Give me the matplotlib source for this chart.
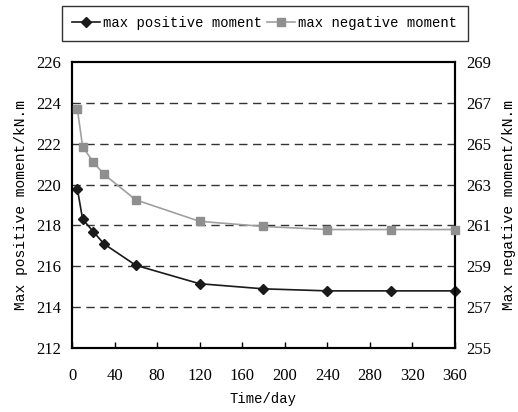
import matplotlib
matplotlib.use("Agg")
import matplotlib.pyplot as plt
from matplotlib.lines import Line2D

# data
days = [5, 10, 20, 30, 60, 120, 180, 240, 300, 360]
max_pos = [219.8, 218.3, 217.7, 217.1, 216.05, 215.15, 214.9, 214.8, 214.8, 214.8]
max_neg = [266.7, 264.85, 264.1, 263.5, 262.25, 261.2, 260.95, 260.8, 260.8, 260.8]

xticks = list(range(0, 361, 40))
left_ticks = list(range(212, 227, 2))
right_ticks = list(range(255, 270, 2))

mono = "Liberation Mono"
serif = "Liberation Serif"

fig = plt.figure(figsize=(5.18, 4.12), dpi=100)
ax1 = fig.add_axes([0.139, 0.155, 0.739, 0.695])
ax2 = ax1.twinx()

pos_c = "#1a1a1a"
neg_c = "#8f8f8f"

ax1.plot(days, max_pos, color=pos_c, lw=1.2, marker="D", markersize=5.5,
         markerfacecolor=pos_c, markeredgecolor=pos_c, zorder=3, clip_on=False)
ax2.plot(days, max_neg, color="#a0a0a0", lw=1.2, marker="s", markersize=6,
         markerfacecolor=neg_c, markeredgecolor=neg_c, zorder=3, clip_on=False)

ax1.set_xlim(0, 360)
ax1.set_ylim(212, 226)
ax2.set_ylim(255, 269)
ax1.set_xticks(xticks)
ax1.set_yticks(left_ticks)
ax2.set_yticks(right_ticks)

for y in left_ticks[1:-1]:
    ax1.axhline(y, color="#333333", lw=1.0, ls=(0, (6, 4)), zorder=1)

ax1.tick_params(axis="x", direction="in", length=4, width=1, top=False, pad=14)
ax1.tick_params(axis="y", length=0, pad=8)
ax2.tick_params(axis="y", length=0, pad=8)
for lab in ax1.get_xticklabels() + ax1.get_yticklabels() + ax2.get_yticklabels():
    lab.set_fontfamily(serif)
    lab.set_fontsize(12)

for ax in (ax1, ax2):
    for s in ax.spines.values():
        s.set_linewidth(1.5)
        s.set_color("black")

ax1.set_xlabel("Time/day", fontfamily=mono, fontsize=10, labelpad=6)
ax1.set_ylabel("Max positive moment/kN.m", fontfamily=mono, fontsize=10.5, labelpad=6)
ax2.set_ylabel("Max negative moment/kN.m", fontfamily=mono, fontsize=10.5,
               rotation=90, labelpad=8)

handles = [
    Line2D([], [], color=pos_c, lw=1.2, marker="D", markersize=5.5),
    Line2D([], [], color="#a0a0a0", lw=1.2, marker="s", markersize=6,
           markerfacecolor=neg_c, markeredgecolor=neg_c),
]
leg = fig.legend(handles, ["max positive moment", "max negative moment"],
                 loc="upper center", bbox_to_anchor=(0.511, 0.986), ncol=2,
                 frameon=True, fancybox=False, edgecolor="black",
                 prop={"family": mono, "size": 10}, handlelength=2.0,
                 handletextpad=0.2, columnspacing=0.4, borderpad=0.75,
                 borderaxespad=0)
leg.get_frame().set_linewidth(1.0)

plt.savefig("out.png", dpi=100)
